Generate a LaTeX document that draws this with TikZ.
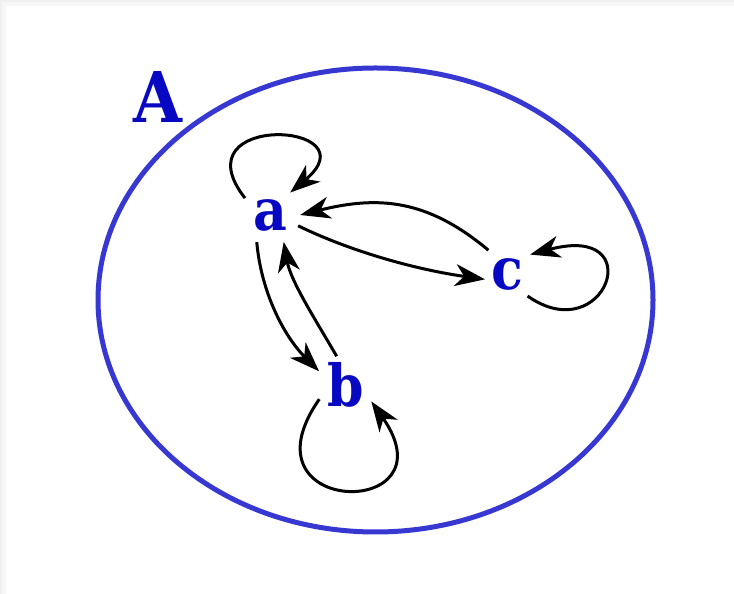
\documentclass[tikz,border=0pt]{standalone}
\usepackage{fontspec}
\setmainfont{DejaVu Serif Condensed}
\usetikzlibrary{arrows.meta}
\definecolor{setblue}{RGB}{55,55,210}
\definecolor{lblblue}{RGB}{8,8,195}
\begin{document}
\begin{tikzpicture}[x=1pt,y=1pt,
  vtx/.style={circle,inner sep=0pt,minimum size=60pt,text=lblblue,
    font=\fontsize{58}{60}\selectfont\bfseries},
  arr/.style={line width=3pt,-{Stealth[length=30pt,width=22pt,inset=9pt]}}]
\useasboundingbox (0,0) rectangle (734,594);
\fill[gray!12] (0,0) rectangle (734,594);
\fill[gray!6] (2,0) rectangle (734,592);
\fill[white] (6,0) rectangle (734,588);
\draw[setblue,line width=5pt] (375.5,294) ellipse [x radius=277.5, y radius=232];
\node[text=lblblue,font=\fontsize{70}{72}\selectfont\bfseries] (A) at (158,497) {A};
\node[vtx] (a) at (270,379) {a};
\node[vtx] (b) at (346,209) {b};
\node[vtx] (c) at (507,320) {c};
% loops
\draw[arr] (a.146) .. controls +(128:110) and +(40:110) .. (a.48);
\draw[arr] (c.-47) .. controls +(-35:95) and +(15:125) .. (c.40);
\draw[arr] (b.208) .. controls +(235:145) and +(-55:145) .. (b.-33);
% edges
\draw[arr,shorten >=-8pt] (a.-21) .. controls +(-26:60) and +(172:60) .. (c.188);
\draw[arr] (c.128) .. controls +(140:80) and +(14:80) .. (a.0);
\draw[arr] (a.-116) .. controls +(-85:50) and +(135:50) .. (b.153);
\draw[arr] (b.108) .. controls +(120:40) and +(-80:40) .. (a.-63);
\end{tikzpicture}
\end{document}
